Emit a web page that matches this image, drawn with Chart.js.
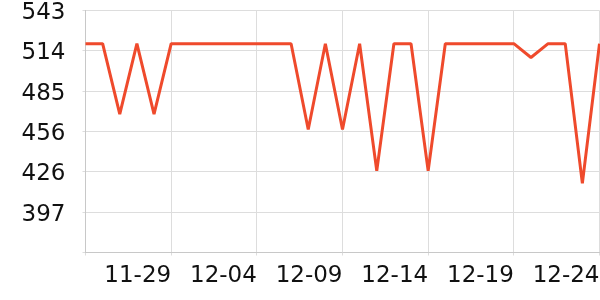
<!DOCTYPE html>
<html>
<head>
<meta charset="utf-8">
<script src="https://cdn.jsdelivr.net/npm/chart.js@4"></script>
<style>
  html, body { margin: 0; padding: 0; background: #fff; }
  #wrap { width: 600px; height: 300px; }
</style>
</head>
<body>
<div id="wrap"><canvas id="chart" width="600" height="300"></canvas></div>
<script>
// dates 11-24 .. 12-24
const dates = [
    '11-24', '11-25', '11-26', '11-27', '11-28', '11-29', '11-30',
    '12-01', '12-02', '12-03', '12-04', '12-05', '12-06', '12-07', '12-08',
    '12-09', '12-10', '12-11', '12-12', '12-13', '12-14', '12-15', '12-16',
    '12-17', '12-18', '12-19', '12-20', '12-21', '12-22', '12-23', '12-24'
];
const values = [
    519, 519, 468, 519, 468, 519, 519,
    519, 519, 519, 519, 519, 519, 457, 519,
    457, 519, 427, 519, 519, 427, 519, 519,
    519, 519, 519, 509, 519, 519, 418, 519
];
const yMin = 368;
const yMax = 543;
const yTickCount = 6;
const labelEvery = 5;

const lineColor = '#ef4a2c';
const gridColor = '#dddddd';
const fontFamily = '"DejaVu Sans", sans-serif';

const ctx = document.getElementById('chart').getContext('2d');
new Chart(ctx, {
    type: 'line',
    data: {
        labels: dates,
        datasets: [{
            data: values,
            borderColor: lineColor,
            borderWidth: 3,
            borderJoinStyle: 'bevel',
            pointRadius: 0,
            tension: 0,
            fill: false
        }]
    },
    options: {
        responsive: false,
        animation: false,
        layout: {
            autoPadding: false,
            padding: { left: 21.5, top: 10.5, right: 0.5, bottom: 0 }
        },
        plugins: {
            legend: { display: false },
            tooltip: { enabled: false }
        },
        scales: {
            x: {
                afterFit: s => {
                    s.height = 47.5;
                    s.paddingLeft = 0;
                    s.paddingRight = 0;
                },
                grid: {
                    color: c => (c.index % labelEvery === 0 ? gridColor : 'transparent'),
                    tickLength: 3
                },
                border: { color: '#c8c8c8' },
                ticks: {
                    autoSkip: false,
                    maxRotation: 0,
                    align: 'end',
                    padding: 7,
                    color: '#111',
                    font: { family: fontFamily, size: 23 },
                    callback: (v, i) => (i > 0 && i % labelEvery === 0 ? dates[i] : '')
                }
            },
            y: {
                min: yMin,
                max: yMax,
                afterBuildTicks: scale => {
                    const step = (yMax - yMin) / yTickCount;
                    scale.ticks = [];
                    for (let i = 0; i <= yTickCount; i++) scale.ticks.push({ value: yMin + i * step });
                },
                afterFit: s => {
                    s.width = 64;
                    s.paddingTop = 0;
                    s.paddingBottom = 0;
                },
                grid: { color: gridColor, tickLength: 3 },
                border: { color: '#c8c8c8' },
                ticks: {
                    padding: 17,
                    labelOffset: 2.5,
                    color: '#111',
                    font: { family: fontFamily, size: 23 },
                    callback: (v, i) => (i === 0 ? '' : Math.round(v))
                }
            }
        }
    }
});
</script>
</body>
</html>
